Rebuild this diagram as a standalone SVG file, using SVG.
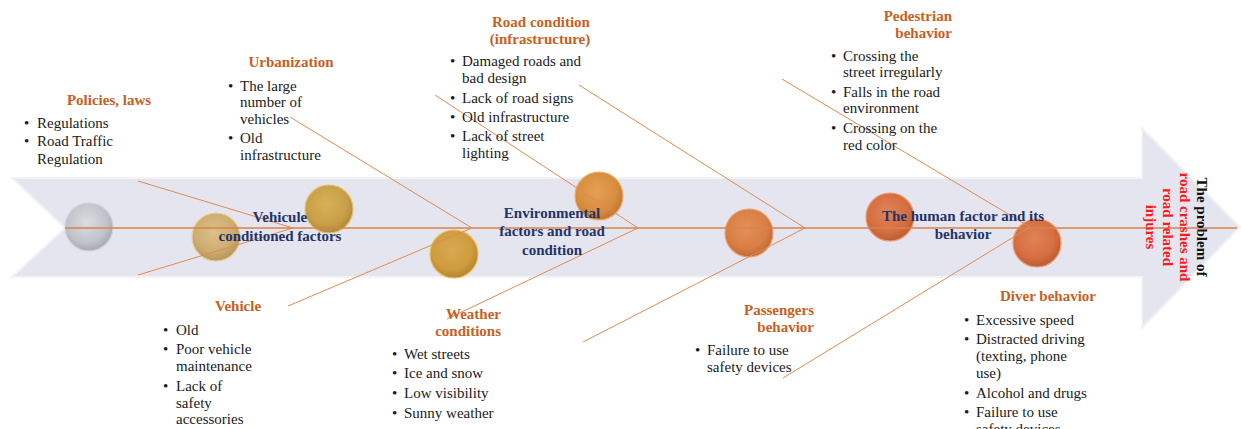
<svg xmlns="http://www.w3.org/2000/svg" width="1241" height="429" viewBox="0 0 1241 429">
<style>
.title{font-family:"Liberation Serif",serif;font-weight:bold;font-size:15px;fill:#c8601e}
.item{font-family:"Liberation Serif",serif;font-size:15px;fill:#1a1a1a}
.center{font-family:"Liberation Serif",serif;font-weight:bold;font-size:15px;fill:#1f3468;text-anchor:middle}
.head{font-family:"Liberation Serif",serif;font-weight:bold;font-size:15px;text-anchor:middle}
.bone{stroke:#e08a55;stroke-width:1;fill:none}
.spine{stroke:#d9834a;stroke-width:1.3;fill:none}
.ball{stroke-width:1.2}
</style>
<defs>
<radialGradient id="gGrey" cx="45%" cy="40%" r="60%"><stop offset="0" stop-color="#dcdce2"/><stop offset="0.7" stop-color="#c2c2ca"/><stop offset="1" stop-color="#a9a9b2"/></radialGradient>
<radialGradient id="gTan" cx="45%" cy="40%" r="60%"><stop offset="0" stop-color="#dcc08a"/><stop offset="0.7" stop-color="#cdac70"/><stop offset="1" stop-color="#b8945a"/></radialGradient>
<radialGradient id="gGold" cx="45%" cy="40%" r="60%"><stop offset="0" stop-color="#d8b058"/><stop offset="0.7" stop-color="#c9a048"/><stop offset="1" stop-color="#b08838"/></radialGradient>
<radialGradient id="gGold2" cx="45%" cy="40%" r="60%"><stop offset="0" stop-color="#d9a850"/><stop offset="0.7" stop-color="#cf9c3e"/><stop offset="1" stop-color="#b5842e"/></radialGradient>
<radialGradient id="gOr1" cx="45%" cy="40%" r="60%"><stop offset="0" stop-color="#e4a055"/><stop offset="0.7" stop-color="#d98c3e"/><stop offset="1" stop-color="#c07634"/></radialGradient>
<radialGradient id="gOr2" cx="45%" cy="40%" r="60%"><stop offset="0" stop-color="#e2905a"/><stop offset="0.7" stop-color="#d97e44"/><stop offset="1" stop-color="#bf6a36"/></radialGradient>
<radialGradient id="gOr3" cx="45%" cy="40%" r="60%"><stop offset="0" stop-color="#e08258"/><stop offset="0.7" stop-color="#d56e40"/><stop offset="1" stop-color="#bb5c34"/></radialGradient>
</defs>
<rect width="1241" height="429" fill="#ffffff"/>

<g id="backbone-arrow">
<polygon points="12,178 1142,178 1142,128 1240,227 1142,328 1142,277 12,277 65,228" fill="#e4e5ef" stroke="#f2f2f7" stroke-width="2"/>
</g>

<g id="spheres">
<circle cx="89" cy="227" r="24" fill="url(#gGrey)" class="ball" stroke="#d3d3da"/>
<circle cx="216" cy="237" r="24" fill="url(#gTan)" class="ball" stroke="#e6cf9c"/>
<circle cx="329" cy="209" r="24" fill="url(#gGold)" class="ball" stroke="#e2c27a"/>
<circle cx="454" cy="254" r="24" fill="url(#gGold2)" class="ball" stroke="#e8c060"/>
<circle cx="599" cy="196" r="24" fill="url(#gOr1)" class="ball" stroke="#eab070"/>
<circle cx="749" cy="233" r="24" fill="url(#gOr2)" class="ball" stroke="#eca070"/>
<circle cx="890" cy="217" r="24" fill="url(#gOr3)" class="ball" stroke="#f09a70"/>
<circle cx="1037" cy="243" r="24" fill="url(#gOr3)" class="ball" stroke="#f09a70"/>
</g>

<g id="connectors">
<line class="spine" x1="65" y1="228" x2="1237" y2="228"/>
<line class="bone" x1="138" y1="181" x2="293" y2="228"/>
<line class="bone" x1="138" y1="275" x2="293" y2="228"/>
<line class="bone" x1="290" y1="117" x2="472" y2="228"/>
<line class="bone" x1="288" y1="306" x2="472" y2="228"/>
<line class="bone" x1="435" y1="95" x2="638" y2="228"/>
<line class="bone" x1="447" y1="319" x2="638" y2="228"/>
<line class="bone" x1="579" y1="85" x2="805" y2="228"/>
<line class="bone" x1="583" y1="342" x2="805" y2="228"/>
<line class="bone" x1="782" y1="79" x2="1030" y2="227"/>
<line class="bone" x1="783" y1="378" x2="1030" y2="227"/>
</g>

<g id="node-policies">
<text class="title" x="109" y="105" text-anchor="middle">Policies, laws</text>
<text class="item" x="24" y="128">•</text><text class="item" x="37" y="128">Regulations</text>
<text class="item" x="24" y="146">•</text><text class="item" x="37" y="146">Road Traffic</text>
<text class="item" x="37" y="164">Regulation</text>
</g>

<g id="node-urbanization">
<text class="title" x="291" y="67" text-anchor="middle">Urbanization</text>
<text class="item" x="228" y="91">•</text><text class="item" x="240" y="91">The large</text>
<text class="item" x="240" y="107">number of</text>
<text class="item" x="240" y="124">vehicles</text>
<text class="item" x="228" y="143">•</text><text class="item" x="240" y="143">Old</text>
<text class="item" x="240" y="160">infrastructure</text>
</g>

<g id="node-road-condition">
<text class="title" x="541" y="27" text-anchor="middle">Road condition</text>
<text class="title" x="540" y="44" text-anchor="middle">(infrastructure)</text>
<text class="item" x="450" y="66">•</text><text class="item" x="462" y="66">Damaged roads and</text>
<text class="item" x="462" y="83">bad design</text>
<text class="item" x="450" y="103">•</text><text class="item" x="462" y="103">Lack of road signs</text>
<text class="item" x="450" y="122">•</text><text class="item" x="462" y="122">Old infrastructure</text>
<text class="item" x="450" y="141">•</text><text class="item" x="462" y="141">Lack of street</text>
<text class="item" x="462" y="158">lighting</text>
</g>

<g id="node-pedestrian">
<text class="title" x="952" y="21" text-anchor="end">Pedestrian</text>
<text class="title" x="952" y="38" text-anchor="end">behavior</text>
<text class="item" x="831" y="61">•</text><text class="item" x="843" y="61">Crossing the</text>
<text class="item" x="843" y="77">street irregularly</text>
<text class="item" x="831" y="97">•</text><text class="item" x="843" y="97">Falls in the road</text>
<text class="item" x="843" y="113">environment</text>
<text class="item" x="831" y="133">•</text><text class="item" x="843" y="133">Crossing on the</text>
<text class="item" x="843" y="150">red color</text>
</g>

<g id="node-vehicle">
<text class="title" x="238" y="311" text-anchor="middle">Vehicle</text>
<text class="item" x="163" y="335">•</text><text class="item" x="176" y="335">Old</text>
<text class="item" x="163" y="354">•</text><text class="item" x="176" y="354">Poor vehicle</text>
<text class="item" x="176" y="371">maintenance</text>
<text class="item" x="163" y="391">•</text><text class="item" x="176" y="391">Lack of</text>
<text class="item" x="176" y="408">safety</text>
<text class="item" x="176" y="424">accessories</text>
</g>

<g id="node-weather">
<text class="title" x="501" y="319" text-anchor="end">Weather</text>
<text class="title" x="501" y="336" text-anchor="end">conditions</text>
<text class="item" x="392" y="359">•</text><text class="item" x="404" y="359">Wet streets</text>
<text class="item" x="392" y="378">•</text><text class="item" x="404" y="378">Ice and snow</text>
<text class="item" x="392" y="398">•</text><text class="item" x="404" y="398">Low visibility</text>
<text class="item" x="392" y="418">•</text><text class="item" x="404" y="418">Sunny weather</text>
</g>

<g id="node-passengers">
<text class="title" x="814" y="315" text-anchor="end">Passengers</text>
<text class="title" x="814" y="332" text-anchor="end">behavior</text>
<text class="item" x="695" y="355">•</text><text class="item" x="707" y="355">Failure to use</text>
<text class="item" x="707" y="372">safety devices</text>
</g>

<g id="node-driver">
<text class="title" x="1048" y="301" text-anchor="middle">Diver behavior</text>
<text class="item" x="964" y="325">•</text><text class="item" x="976" y="325">Excessive speed</text>
<text class="item" x="964" y="344">•</text><text class="item" x="976" y="344">Distracted driving</text>
<text class="item" x="976" y="361">(texting, phone</text>
<text class="item" x="976" y="378">use)</text>
<text class="item" x="964" y="398">•</text><text class="item" x="976" y="398">Alcohol and drugs</text>
<text class="item" x="964" y="417">•</text><text class="item" x="976" y="417">Failure to use</text>
<text class="item" x="976" y="434">safety devices</text>
</g>

<g id="node-vehicle-factors">
<text class="center" x="280" y="222">Vehicule</text>
<text class="center" x="280" y="241">conditioned factors</text>
</g>

<g id="node-environment">
<text class="center" x="552" y="218">Environmental</text>
<text class="center" x="552" y="236">factors and road</text>
<text class="center" x="552" y="255">condition</text>
</g>

<g id="node-human">
<text class="center" x="963" y="221">The human factor and its</text>
<text class="center" x="963" y="239">behavior</text>
</g>

<g id="node-problem" transform="translate(1214,227) rotate(90)">
<text class="head" x="0" y="17" fill="#111111">The problem of</text>
<text class="head" x="0" y="34" fill="#ff1a1a">road crashes and</text>
<text class="head" x="0" y="51" fill="#ff1a1a">road related</text>
<text class="head" x="0" y="68" fill="#ff1a1a">injures</text>
</g>
</svg>
